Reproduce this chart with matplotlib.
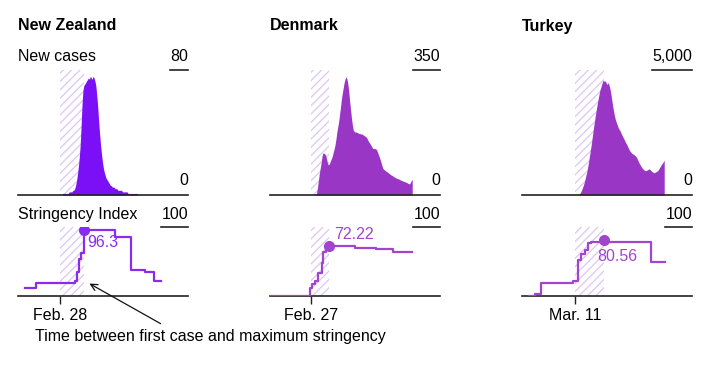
import matplotlib.pyplot as plt
import numpy as np
from matplotlib.lines import Line2D

plt.rcParams['font.family'] = ['Liberation Sans', 'DejaVu Sans']
plt.rcParams['hatch.linewidth'] = 0.9

# ---- data (x values are day numbers, Jan 1 2020 = 0) ----
countries = ["New Zealand", "Denmark", "Turkey"]
case_tops = [80, 350, 5000]
case_top_labels = ["80", "350", "5,000"]
first_case_day = [58, 57, 70]
first_case_labels = ["Feb. 28", "Feb. 27", "Mar. 11"]
max_day = [84, 77, 101]
max_value = [96.3, 72.22, 80.56]
max_labels = ["96.3", "72.22", "80.56"]

# daily new cases, starting at the given day
nz_case_start = 58
nz_cases = [1, 0, 0, 1, 1, 1, 1, 1, 1, 1, 2, 2, 2, 2, 3, 3, 4, 6, 9, 13,
             18, 24, 32, 44, 58, 67, 70, 71, 72, 73, 74, 75, 74, 76, 75, 74,
             76, 75, 73, 70, 64, 57, 48, 40, 33, 27, 22, 18, 15, 13, 11, 10,
             9, 8, 7, 6, 6, 5, 5, 5, 4, 4, 4, 3, 3, 3, 3, 3, 2, 2, 2, 2, 2, 2,
             1, 1, 1, 1, 1, 1, 1, 1, 1, 1, 1, 0, 0, 0, 0, 0, 0, 0, 0, 0, 0, 0,
             0, 0, 0, 0, 0, 0, 0, 0, 0, 0, 0, 0, 0, 0, 0]
dk_case_start = 62
dk_cases = [0, 5, 20, 40, 60, 75, 90, 110, 118, 117, 115, 110, 100, 88, 84,
            88, 95, 101, 108, 118, 128, 139, 155, 175, 190, 205, 225, 245,
            268, 285, 300, 315, 325, 331, 325, 312, 290, 262, 238, 214, 195,
            181, 178, 176, 177, 175, 174, 172, 173, 170, 172, 169, 168, 166,
            164, 162, 158, 152, 148, 144, 140, 135, 131, 130, 131, 129, 128,
            122, 115, 108, 101, 92, 83, 75, 72, 70, 68, 66, 64, 62, 60, 58,
            56, 55, 53, 51, 50, 48, 47, 46, 45, 44, 42, 41, 40, 39, 38, 37,
            36, 35, 33, 32, 31, 35, 40, 44]
tr_case_start = 74
tr_cases = [0, 50, 100, 180, 280, 380, 500, 640, 800, 950, 1150, 1380, 1620,
            1850, 2100, 2380, 2650, 2900, 3150, 3380, 3600, 3800, 4000, 4180,
            4300, 4420, 4550, 4600, 4520, 4580, 4470, 4420, 4500, 4400, 4250,
            4050, 3800, 3550, 3350, 3150, 3000, 2900, 2800, 2700, 2620, 2570,
            2480, 2400, 2330, 2250, 2180, 2100, 2040, 1960, 1880, 1800, 1750,
            1700, 1660, 1640, 1620, 1580, 1540, 1500, 1420, 1330, 1260, 1200,
            1130, 1080, 1040, 1000, 980, 970, 990, 1010, 1040, 1040, 1000, 960,
            930, 910, 890, 910, 930, 950, 980, 1030, 1100, 1160, 1220, 1280,
            1320, 1400]

# stringency index, change points (day, value)
nz_str_days = [20, 32, 74, 76, 79, 81, 84, 118, 135, 150, 160, 168]
nz_str_vals = [11.11, 19.44, 22.22, 35.19, 53.7, 62.04, 96.3, 85.19, 37.04, 34.26, 22.22, 22.22]
dk_str_days = [13, 56, 58, 61, 65, 69, 70, 73, 77, 105, 128, 146, 167]
dk_str_vals = [0, 11.11, 16.67, 21.3, 33.33, 48.15, 63.89, 69.44, 72.22, 69.91, 67.59, 64.35, 64.35]
tr_str_days = [20, 27, 33, 68, 73, 76, 81, 84, 87, 101, 104, 153, 168]
tr_str_vals = [0, 2.78, 19.44, 22.22, 51.85, 61.11, 66.67, 76.39, 78.7, 80.56, 78.7, 49.07, 49.07]

cases = [(nz_case_start, nz_cases), (dk_case_start, dk_cases), (tr_case_start, tr_cases)]
stringency = [(nz_str_days, nz_str_vals), (dk_str_days, dk_str_vals), (tr_str_days, tr_str_vals)]

fill_colors = ["#7b10f7", "#9a36c6", "#9a36c6"]
line_colors = ["#8a2cf0", "#a045cc", "#a045cc"]
hatch_color = "#dcc6f4"

# ---- layout in pixels ----
W, H = 724, 366
def box(x0, y0, x1, y1):
    return [x0 / W, 1 - y1 / H, (x1 - x0) / W, (y1 - y0) / H]

fig = plt.figure(figsize=(W / 100, H / 100), dpi=100)
lefts = [18, 270, 522]
xlim = (12.4, 197.2)
fs = 11.5

top_axes, bot_axes = [], []
for i, name in enumerate(countries):
    x0 = lefts[i]
    ax = fig.add_axes(box(x0, 70, x0 + 170, 195))
    ax2 = fig.add_axes(box(x0, 227, x0 + 170, 296))
    top_axes.append(ax)
    bot_axes.append(ax2)

    start, vals = cases[i]
    d = np.arange(start, start + len(vals))
    for a in (ax, ax2):
        a.axvspan(first_case_day[i], max_day[i], facecolor="white", edgecolor=hatch_color,
                  hatch="////", linewidth=0, zorder=0)
        a.set_xlim(*xlim)
        for s in ("top", "left", "right"):
            a.spines[s].set_visible(False)
        a.spines["bottom"].set_color("#222222")
        a.spines["bottom"].set_linewidth(1.2)
        a.set_yticks([])

    ax.fill_between(d, 0, vals, color=fill_colors[i], linewidth=0, zorder=2)
    ax.set_ylim(0, case_tops[i])
    ax.set_xticks([])

    sd, sv = stringency[i]
    ax2.plot(sd, sv, drawstyle="steps-post", color=line_colors[i], lw=1.6, zorder=3)
    ax2.plot([max_day[i]], [max_value[i]], "o", color=line_colors[i], ms=7, zorder=4)
    ax2.set_ylim(0, 100)
    ax2.set_xticks([first_case_day[i]], [first_case_labels[i]], fontsize=fs)
    ax2.tick_params(axis="x", length=6, width=1, color="#222222", pad=3)

    fig.text(x0 / W, 1 - 30.5 / H, name, fontsize=fs, fontweight="bold", va="baseline")

# max labels
offsets = [(3, -17), (5, 7), (-6, -21)]
for i in range(3):
    bot_axes[i].annotate(max_labels[i], (max_day[i], max_value[i]), xytext=offsets[i],
                         textcoords="offset pixels", color=line_colors[i], fontsize=fs,
                         va="baseline", ha="left")

# row labels
fig.text(18 / W, 1 - 61 / H, "New cases", fontsize=fs, va="baseline")
fig.text(18 / W, 1 - 219 / H, "Stringency Index", fontsize=fs, va="baseline")

# scale labels with short rule under them
corner = []
for i in range(3):
    x1 = (lefts[i] + 170) / W
    corner.append((top_axes[i], fig.text(x1, 1 - 61 / H, case_top_labels[i], fontsize=fs,
                                         ha="right", va="baseline")))
    fig.text(x1, 1 - 185 / H, "0", fontsize=fs, ha="right", va="baseline")
    corner.append((bot_axes[i], fig.text(x1, 1 - 219 / H, "100", fontsize=fs,
                                         ha="right", va="baseline")))

fig.canvas.draw()
r = fig.canvas.get_renderer()
for a, t in corner:
    bb = t.get_window_extent(r)
    axbb = a.get_window_extent(r)
    f0 = (bb.x0 - axbb.x0) / axbb.width
    a.add_line(Line2D([f0, 1], [1, 1], transform=a.transAxes, color="#222222",
                      lw=1.2, clip_on=False))

# annotation
bot_axes[0].annotate("", xy=(87.4, 20), xytext=(163, H - 325), textcoords="figure pixels",
                     arrowprops=dict(arrowstyle="->", color="#111111", lw=0.9,
                                     mutation_scale=12))
fig.text(35 / W, 1 - 341.5 / H, "Time between first case and maximum stringency",
         fontsize=fs, va="baseline")

fig.savefig("out.png", dpi=100)
